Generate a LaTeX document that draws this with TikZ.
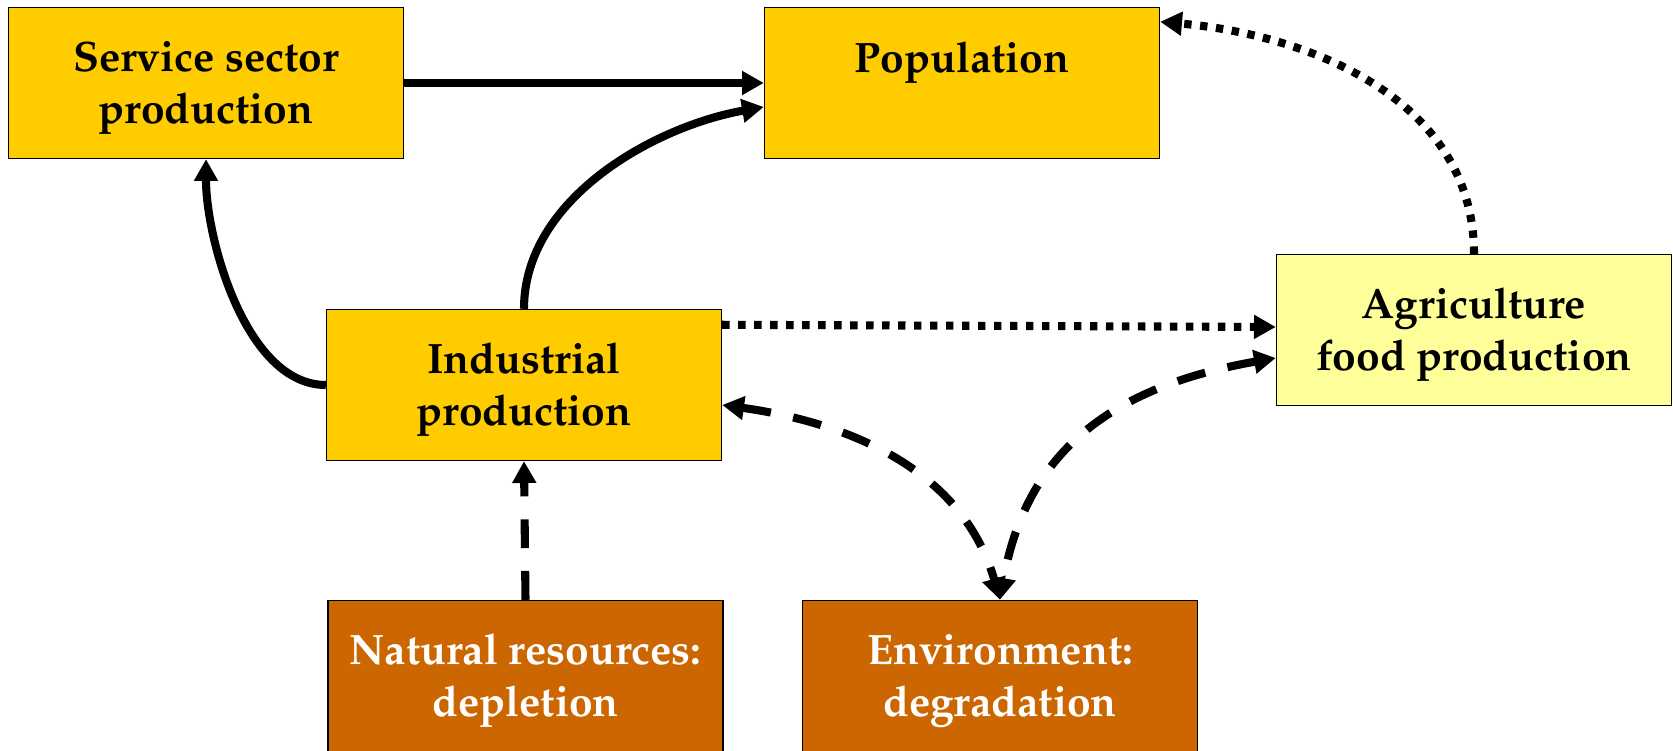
\documentclass[tikz,border=0pt]{standalone}
\usepackage[T1]{fontenc}
\usepackage{mathpazo}
\usetikzlibrary{arrows.meta}
\definecolor{gold}{HTML}{FFCC00}
\definecolor{paleyellow}{HTML}{FFFF99}
\definecolor{rust}{HTML}{CC6600}
\begin{document}
\begin{tikzpicture}[
   box/.style={draw=black,line width=0.4pt,minimum width=3.95cm,minimum height=1.51cm,inner sep=0pt,align=center,font=\fontsize{12.1}{14.8}\selectfont\bfseries},
   twoline/.style={box,execute at begin node={\rule{0pt}{26.4pt}}},
   flow/.style={line width=2.3pt,-{Triangle[length=6.2pt,width=6.5pt]}},
   dotflow/.style={flow,dash pattern=on 2.1pt off 2.45pt},
   dashflow/.style={flow,dash pattern=on 8.2pt off 6.5pt},
   twoway/.style={dashflow,{Triangle[length=6.2pt,width=6.5pt]}-{Triangle[length=6.2pt,width=6.5pt]}}]
   \useasboundingbox (0,0) rectangle (16.73,7.51);
	 \node[twoline,fill=gold] (serv) at (2.06,6.68) {Service sector\\production};
	 \node[box,fill=gold] (pop) at (9.62,6.68) {Population\\~};
	 \node[twoline,fill=gold] (ind) at (5.24,3.66) {Industrial\\production};
	 \node[twoline,fill=paleyellow] (agr) at (14.74,4.21) {Agriculture\\food production};
	 \node[twoline,fill=rust,text=white] (nat) at (5.255,0.75) {Natural resources:\\depletion};
	 \node[twoline,fill=rust,text=white] (env) at (10.00,0.75) {Environment:\\degradation};
	  \draw[flow] (serv.east) -- (pop.west);
	  \draw[flow] (ind.north) to[out=90,in=190,looseness=0.9] ([yshift=-0.24cm]pop.west);
	  \draw[flow] (ind.west) to[out=180,in=-90,looseness=0.8] (serv.south);
	  \draw[dotflow] ([yshift=-0.16cm]ind.north east) -- ([yshift=0.03cm]agr.west);
	  \draw[dotflow] (agr.north) to[out=90,in=-5] ([yshift=-0.15cm]pop.north east);
	  \draw[dashflow] (nat.north) -- (ind.south);
	  \draw[twoway] ([yshift=-0.2cm]ind.east) to[out=-8,in=106] (env.north);
	  \draw[twoway] ([yshift=-0.28cm]agr.west) to[out=190,in=80,looseness=1.1] (env.north);
   \end{tikzpicture}
\end{document}
